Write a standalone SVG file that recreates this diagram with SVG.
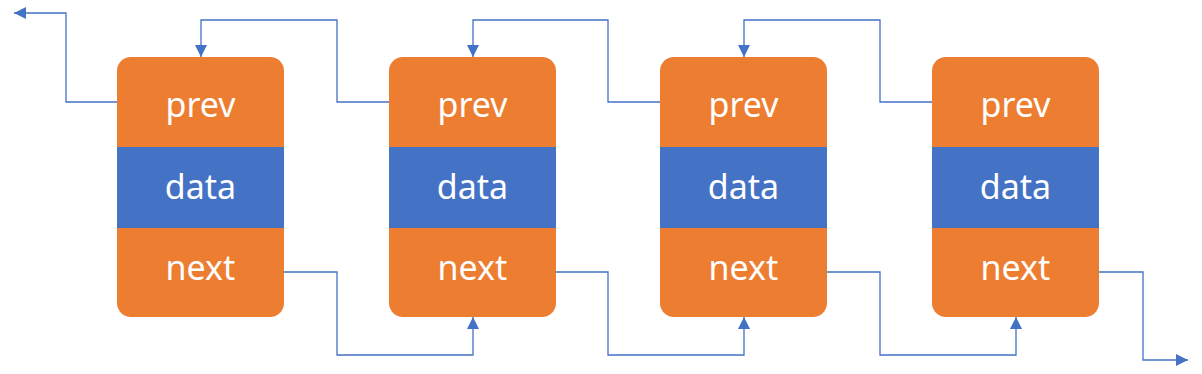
<svg xmlns="http://www.w3.org/2000/svg" width="1202" height="374" viewBox="0 0 1202 374">
<style>
.o{fill:#ED7D31}
.b{fill:#4472C4}
.t{fill:#fff;font-family:"Noto Sans","Open Sans",sans-serif;font-size:34px;text-anchor:middle;dominant-baseline:central}
.c{fill:none;stroke:#4472C4;stroke-width:1.3;marker-end:url(#a)}
</style>
<defs>
<marker id="a" markerUnits="userSpaceOnUse" markerWidth="12" markerHeight="12" refX="12" refY="6" orient="auto"><path d="M0,0 L12,6 L0,12 Z" fill="#4472C4"/></marker>
<clipPath id="r1"><rect x="117" y="57" width="167" height="260" rx="14"/></clipPath>
<clipPath id="r2"><rect x="389" y="57" width="167" height="260" rx="14"/></clipPath>
<clipPath id="r3"><rect x="660" y="57" width="167" height="260" rx="14"/></clipPath>
<clipPath id="r4"><rect x="932" y="57" width="167" height="260" rx="14"/></clipPath>
</defs>
<g id="node1" clip-path="url(#r1)">
<rect class="o" x="117" y="57" width="167" height="260"/>
<rect class="b" x="117" y="147" width="167" height="81"/>
<text class="t" x="200.5" y="104">prev</text>
<text class="t" x="200.5" y="186">data</text>
<text class="t" x="200.5" y="267">next</text>
</g>
<g id="node2" clip-path="url(#r2)">
<rect class="o" x="389" y="57" width="167" height="260"/>
<rect class="b" x="389" y="147" width="167" height="81"/>
<text class="t" x="472.5" y="104">prev</text>
<text class="t" x="472.5" y="186">data</text>
<text class="t" x="472.5" y="267">next</text>
</g>
<g id="node3" clip-path="url(#r3)">
<rect class="o" x="660" y="57" width="167" height="260"/>
<rect class="b" x="660" y="147" width="167" height="81"/>
<text class="t" x="743.5" y="104">prev</text>
<text class="t" x="743.5" y="186">data</text>
<text class="t" x="743.5" y="267">next</text>
</g>
<g id="node4" clip-path="url(#r4)">
<rect class="o" x="932" y="57" width="167" height="260"/>
<rect class="b" x="932" y="147" width="167" height="81"/>
<text class="t" x="1015.5" y="104">prev</text>
<text class="t" x="1015.5" y="186">data</text>
<text class="t" x="1015.5" y="267">next</text>
</g>
<g id="connectors">
<path class="c" d="M117,102 H66 V13 H14"/>
<path class="c" d="M389,102 H337 V20 H201 V57"/>
<path class="c" d="M660,102 H608 V20 H473 V57"/>
<path class="c" d="M932,102 H880 V20 H744 V57"/>
<path class="c" d="M284,272 H337 V355 H473 V317"/>
<path class="c" d="M556,272 H608 V355 H744 V317"/>
<path class="c" d="M827,272 H880 V355 H1016 V317"/>
<path class="c" d="M1099,272 H1143 V360 H1188"/>
</g>
</svg>
